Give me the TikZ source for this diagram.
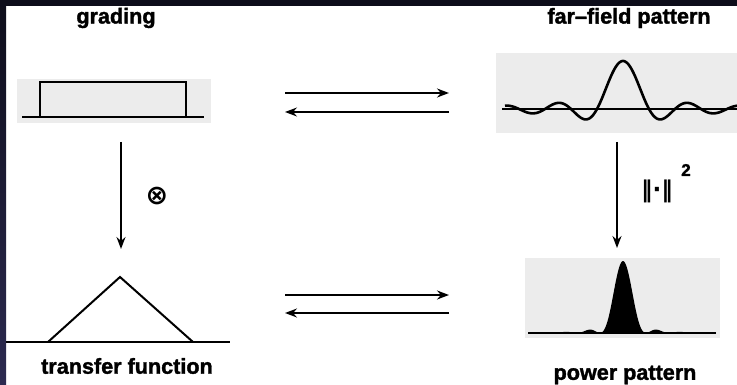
\documentclass[tikz,border=0pt]{standalone}
\usepackage{fontspec}
\setmainfont{Liberation Sans}
\newfontfamily\heavy{Liberation Sans Bold}[FakeBold=1.6]
\newfontfamily\symbolfont{DejaVu Sans Bold}
\usetikzlibrary{arrows.meta}
\definecolor{framedark}{HTML}{0D0D1A}
\definecolor{framelow}{HTML}{2C2A50}
\definecolor{plotbg}{HTML}{ECECEC}
\tikzset{
  caption/.style={font=\fontsize{21.6}{23}\heavy, inner sep=0pt},
  maparrow/.style={line width=1.8pt, -{Stealth[length=12pt,width=9pt,inset=4pt]}},
  curve/.style={line width=2.6pt, line join=round},
  axisline/.style={line width=1.6pt},
}
\pgfmathdeclarefunction{sincf}{1}{\pgfmathparse{sin(deg(pi*#1))/(pi*#1)}}
\begin{document}
\begin{tikzpicture}[x=1pt,y=-1pt]
\useasboundingbox (0,0) rectangle (737,385);
\fill[white] (0,0) rectangle (737,385);
% dark frame along the top and left edges
\fill[framedark] (0,0) rectangle (737,6);
\shade[top color=framedark, bottom color=framelow] (0,0) rectangle (6,385);

% captions
\node[caption] (tgrading) at (116,18) {grading};
\node[caption] (tfar) at (629,18) {far–field pattern};
\node[caption] (ttransfer) at (127,366) {transfer function};
\node[caption] (tpower) at (625,375) {power pattern};

% grading: rectangular aperture
\fill[plotbg] (17,79) rectangle (211,123);
\draw[axisline] (22,117) -- (204,117);
\draw[line width=2pt] (40,117) -- (40,82) -- (186,82) -- (186,117);

% far-field pattern: sinc
\fill[plotbg] (496,53) rectangle (737,133);
\draw[axisline] (502,109) -- (737,109);
\draw[curve] plot[domain=505:737, samples=240, smooth]
  (\x, {109 - 48*sincf((\x-623)/26 + 0.00013)});

% transfer function: triangle
\draw[axisline] (6,342) -- (230,342);
\draw[line width=2pt, line join=miter] (48,342) -- (120,277) -- (193,342);

% power pattern: squared sinc, filled
\fill[plotbg] (525,258) rectangle (720,338);
\fill[black] plot[domain=528:716, samples=240, smooth]
  (\x, {333 - 72*(sincf((\x-623)/23 + 0.00013))^2}) -- (716,333) -- (528,333) -- cycle;
\draw[axisline] (528,333) -- (716,333);

% connectors
\coordinate (gR1) at (285,93);  \coordinate (fL1) at (449,93);
\coordinate (gR2) at (285,112); \coordinate (fL2) at (449,112);
\coordinate (tR1) at (285,295); \coordinate (pL1) at (449,295);
\coordinate (tR2) at (285,313); \coordinate (pL2) at (449,313);
\coordinate (gD) at (121,142);  \coordinate (tU) at (121,249);
\coordinate (fD) at (617,142);  \coordinate (pU) at (617,248);

\draw[maparrow, line width=2.2pt] (gR1) -- (fL1);
\draw[maparrow, line width=1.3pt] (fL2) -- (gR2);
\draw[maparrow] (tR1) -- (pL1);
\draw[maparrow] (pL2) -- (tR2);
\draw[maparrow] (gD) -- (tU);
\draw[maparrow] (fD) -- (pU);

% operator labels
\node[inner sep=0pt, font=\fontsize{27}{29}\symbolfont] (conv) at (157,196) {⊗};
\node[inner sep=0pt, font=\fontsize{23}{25}\symbolfont] (norm) at (657,191) {‖·‖};
\node[inner sep=0pt, font=\fontsize{17}{19}\heavy] (sq) at (686,170) {2};
\end{tikzpicture}
\end{document}
